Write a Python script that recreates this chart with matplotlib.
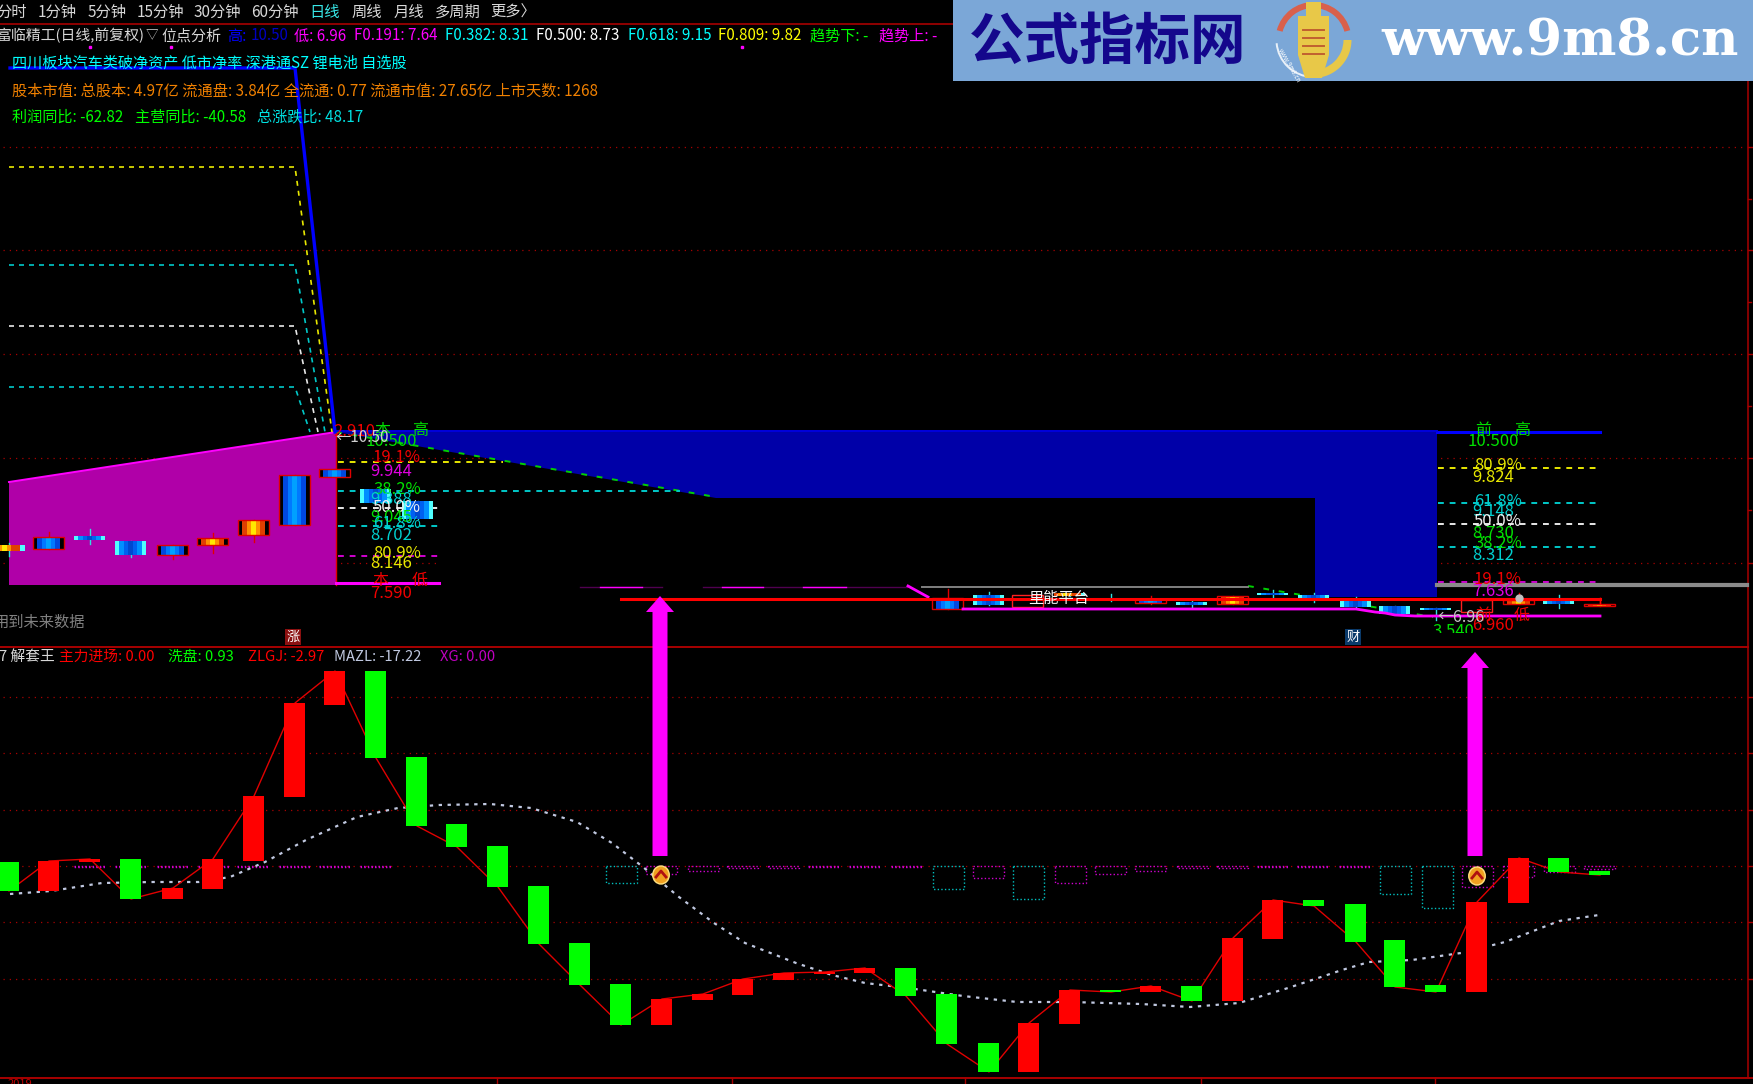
import numpy as np
import matplotlib
matplotlib.use("Agg")
import matplotlib.pyplot as plt
from matplotlib.patches import Polygon, Rectangle, Ellipse, Wedge

plt.rcParams['font.family'] = ['Noto Sans CJK SC', 'DejaVu Sans']

# lower panel (pixel rows, the picture has no value axis)
bar_x = [9, 49, 90, 131, 173, 213, 254, 295, 335, 376, 417, 457, 498, 539, 580, 621, 662, 703, 743, 784,
         825, 865, 906, 947, 989, 1029, 1070, 1111, 1151, 1192, 1233, 1273, 1314, 1356, 1395, 1436, 1477, 1519, 1559, 1600]
bar_top = [862, 861, 859, 859, 888, 859, 796, 703, 671, 671, 757, 824, 846, 886, 943, 984, 999, 994, 979, 973,
           972, 968, 968, 994, 1043, 1023, 990, 990, 986, 986, 938, 900, 900, 904, 940, 985, 902, 858, 858, 871]
bar_bot = [891, 891, 862, 899, 899, 889, 861, 797, 705, 758, 826, 847, 887, 944, 985, 1025, 1025, 1000, 995, 980,
           974, 973, 996, 1044, 1072, 1072, 1024, 992, 992, 1001, 1001, 939, 906, 942, 987, 992, 992, 903, 872, 875]
bar_up = [0, 1, 1, 0, 1, 1, 1, 1, 1, 0, 0, 0, 0, 0, 0, 0, 1, 1, 1, 1,
          1, 1, 0, 0, 0, 1, 1, 0, 1, 0, 1, 1, 0, 0, 0, 0, 1, 1, 0, 0]
zlgj = [891, 861, 859, 899, 888, 859, 796, 703, 671, 758, 826, 847, 887, 944, 985, 1025, 999, 994, 979, 973,
        972, 968, 996, 1044, 1072, 1023, 990, 992, 986, 1001, 938, 900, 906, 942, 987, 992, 902, 858, 872, 875]
mazl_x = [10, 51, 102, 153, 199, 230, 265, 306, 357, 398, 439, 490, 531, 577, 612, 643, 679, 714, 745, 796,
          832, 865, 908, 963, 1017, 1071, 1141, 1190, 1239, 1288, 1342, 1369, 1412, 1461, 1505, 1559, 1599]
mazl_y = [894, 891, 883, 882, 882, 877, 862, 840, 817, 808, 805, 804, 808, 822, 843, 867, 897, 923, 943, 963,
          975, 983, 988, 996, 1002, 1002, 1004, 1007, 1003, 988, 970, 962, 960, 953, 942, 921, 915]

# dotted boxes of the XG row
box_x = [74, 115, 157, 198, 237, 279, 319, 360, 606, 646, 688, 727, 768, 808, 849, 891, 933, 973, 1013, 1055, 1095,
         1135, 1177, 1217, 1257, 1297, 1339, 1380, 1422, 1462, 1503, 1544, 1584]
box_bot = [867, 867, 867, 867, 867, 867, 867, 867, 883, 874, 871, 868, 868, 867, 867, 867, 889, 878, 899, 883, 874,
           871, 868, 868, 867, 867, 867, 894, 908, 887, 877, 872, 869]
box_cyan = [0, 0, 0, 0, 0, 0, 0, 0, 1, 0, 0, 0, 0, 0, 0, 0, 1, 0, 1, 0, 0,
            0, 0, 0, 0, 0, 0, 1, 1, 0, 0, 0, 0]

arrow_x = [660, 1475]
arrow_tip = [596, 652]
arrow_base = [856, 856]
emblem_x = [661, 1477]
emblem_y = [875, 876]

# small candles of the upper panel
cand_x = [9, 49, 90, 131, 173, 213, 254, 295, 335, 376, 418,
          948, 989, 1070, 1111, 1151, 1192, 1233, 1273, 1314, 1356, 1395, 1436, 1519, 1559, 1600]
cand_top = [545, 537, 536, 541, 545, 538, 520, 475, 469, 489, 501,
            598, 595, 593, 599, 599, 602, 596, 593, 595, 600, 606, 608, 600, 600, 604]
cand_bot = [551, 549, 540, 555, 555, 545, 535, 525, 477, 503, 519,
            609, 605, 596, 601, 603, 605, 604, 595, 598, 607, 614, 610, 604, 604, 606]
cand_wtop = [543, 532, 529, 541, 545, 533, 520, 475, 469, 489, 501,
             589, 592, 593, 594, 596, 600, 596, 590, 593, 597, 606, 608, 593, 595, 598]
cand_wbot = [556, 549, 544, 557, 559, 553, 542, 525, 477, 503, 519,
             609, 605, 596, 601, 604, 607, 604, 597, 602, 607, 614, 620, 604, 608, 606]
cand_kind = ['fc', 'br', 'bc', 'bc', 'br', 'fr', 'fr', 'br', 'br', 'bc', 'bc',
             'br', 'bc', 'fc', 'bc', 'br', 'bc', 'fr', 'bc', 'bc', 'bc', 'bc', 'bc', 'fr', 'bc', 'fr']
hollow_x = [1028, 1477]
hollow_top = [595, 600]
hollow_bot = [607, 612]

# fibonacci levels
grid_top = [147, 250, 354, 458, 563]
grid_low = [697, 753, 810, 866, 922, 979]
fan_y = [68, 167, 265, 326, 387]
fan_end = [335, 332, 325, 318, 310]
fan_col = ['#0000ff', '#e8e800', '#00c8c8', '#e8e8e8', '#00c8c8']
left_y = [462, 491, 508, 526, 556]
left_end = [503, 680, 439, 439, 439]
left_col = ['#e8e800', '#00c8c8', '#e8e8e8', '#00c8c8', '#d000d0']
right_y = [468, 503, 524, 547, 582]
right_col = ['#e8e800', '#00c8c8', '#e8e8e8', '#00c8c8', '#d000d0']

left_lab = ['10.500', '19.1%', '9.944', '38.2%', '9.388', '50.0%', '9.045', '61.8%', '8.702', '80.9%', '8.146', '7.590']
left_lab_y = [441, 458, 472, 489, 499, 507, 518, 524, 535, 553, 564, 593]
left_lab_c = ['#00e000', '#f00000', '#e000e0', '#00e000', '#00d0d0', '#f0f0f0', '#00e000', '#00d0d0', '#00d0d0', '#e8e800', '#e8e800', '#f00000']
right_lab = ['10.500', '80.9%', '9.824', '61.8%', '9.148', '50.0%', '8.730', '38.2%', '8.312', '19.1%', '7.636', '6.960']
right_lab_y = [441, 465, 477, 501, 512, 522, 533, 544, 556, 579, 591, 626]
right_lab_c = ['#00e000', '#e8e800', '#e8e800', '#00d0d0', '#00d0d0', '#f0f0f0', '#00e000', '#00e000', '#00d0d0', '#f00000', '#e000e0', '#f00000']

# header strings
menu = ['分时', '1分钟', '5分钟', '15分钟', '30分钟', '60分钟', '日线', '周线', '月线', '多周期', '更多〉']
menu_x = [-4, 38, 88, 137, 194, 251, 309, 352, 394, 435, 490]
info = ['高:', '10.50', '低: 6.96', 'F0.191: 7.64', 'F0.382: 8.31', 'F0.500: 8.73', 'F0.618: 9.15', 'F0.809: 9.82', '趋势下: -', '趋势上: -']
info_x = [227, 251, 294, 354, 445, 536, 628, 718, 810, 879]
info_c = ['#0000ff', '#0000c0', '#ff00ff', '#ff00ff', '#00ffff', '#ffffff', '#00ffff', '#ffff00', '#00ff00', '#ff00ff']
sub = ['7 解套王', '主力进场: 0.00', '洗盘: 0.93', 'ZLGJ: -2.97', 'MAZL: -17.22', 'XG: 0.00']
sub_x = [-1, 59, 168, 248, 334, 440]
sub_c = ['#d8d8d8', '#ff0000', '#00ff00', '#ff0000', '#c0c8e0', '#c000c0']

fig = plt.figure(figsize=(17.53, 10.84), dpi=100, facecolor='black')
ax = fig.add_axes([0, 0, 1, 1], facecolor='black')
ax.set_axis_off()


def txt(x, y, s, c, size=10.0, ha='left', **kw):
    ax.text(x, y, s, color=c, fontsize=size, ha=ha, va='center', zorder=kw.pop('zorder', 20), **kw)


DOT = (0, (1, 4))
DASH = (0, (3, 3))
RED = '#a80000'

# grid
for y in grid_top:
    ax.plot([3, 1743], [y, y], color=RED, lw=0.9, ls=DOT, zorder=1)
for y in grid_low:
    ax.plot([3, 1743], [y, y], color=RED, lw=0.9, ls=DOT, zorder=1)
    ax.plot([1748, 1753], [y, y], color=RED, lw=1, zorder=1)
for y in grid_top:
    ax.plot([1748, 1753], [y, y], color=RED, lw=1, zorder=1)
for y in np.array(grid_top[:-1]) + 52:
    ax.plot([1748, 1751], [y, y], color=RED, lw=1, zorder=1)
ax.plot([0, 953], [24, 24], color=RED, lw=1.2, zorder=2)
ax.plot([0, 1748], [647, 647], color=RED, lw=1.4, zorder=2)
ax.plot([0, 1753], [1078, 1078], color=RED, lw=1.4, zorder=2)
ax.plot([1748, 1748], [81, 1078], color=RED, lw=1.1, zorder=2)
for x in [497, 732, 965, 1201, 1435]:
    ax.plot([x, x], [1078, 1084], color=RED, lw=1, zorder=2)
txt(8, 1084, '2019', '#c00000', 8)

# black mask of the middle part and the two big areas
ax.add_patch(Rectangle((439, 500), 1000, 140, fc='black', ec='none', zorder=1.5))
ax.add_patch(Polygon([(336, 432), (1437, 432), (1437, 597), (1315, 597), (1315, 498), (716, 498)],
                     closed=True, fc='#0000a8', ec='none', zorder=2))
ax.add_patch(Polygon([(9, 482), (336, 432), (336, 585), (9, 585)], closed=True, fc='#b000a8', ec='none', zorder=2))
ax.plot([9, 336], [482, 432], color='#ff00ff', lw=1.4, zorder=3)
ax.plot([336, 336], [432, 585], color='#e00000', lw=1, zorder=3)

# fan lines
for y, e, c in zip(fan_y, fan_end, fan_col):
    if c == '#0000ff':
        ax.plot([10, 295, e], [y, y, 432], color=c, lw=2.4, zorder=4)
    else:
        ax.plot([9, 295, e], [y, y, 432], color=c, lw=1.2, ls=DASH, zorder=3)

for y, e, c in zip(left_y, left_end, left_col):
    ax.plot([338, e], [y, y], color=c, lw=1.4, ls=DASH, zorder=4)
for y, c in zip(right_y, right_col):
    ax.plot([1438, 1600], [y, y], color=c, lw=1.4, ls=DASH, zorder=4)
# the green falling line shows only where no black lies over it
ax.plot([336, 716], [432, 497], color='#00d000', lw=1.4, ls=(0, (3, 5)), zorder=3)
ax.plot([1248, 1433], [586, 617], color='#00d000', lw=1.4, ls=(0, (3, 5)), zorder=3)
ax.plot([1437, 1600], [431.5, 431.5], color='#0000ff', lw=2.2, zorder=3)
ax.plot([336, 1437], [431, 431], color='#0000e0', lw=1.4, zorder=3)
ax.plot([336, 439], [583, 583], color='#ff00ff', lw=2.2, zorder=4)

# faint magenta rests
for a, b, c in [(580, 662, '#500050'), (600, 642, '#ff00ff'), (703, 907, '#500050'), (722, 763, '#ff00ff'), (803, 846, '#ff00ff')]:
    ax.plot([a, b], [587, 587], color=c, lw=1, zorder=4)
ax.plot([908, 928], [586, 597], color='#ff00ff', lw=2, zorder=4)
ax.plot([922, 1248], [586.5, 586.5], color='#808080', lw=1.4, zorder=4)
ax.plot([1437, 1747], [585, 585], color='#8a8a8a', lw=3, zorder=4)
ax.plot([963, 1356, 1375, 1385, 1395, 1415, 1600], [609, 609, 612, 613, 615, 616, 616], color='#ff00ff', lw=2, zorder=6)
ax.plot([621, 1600], [598.5, 598.5], color='#ff0000', lw=2.2, zorder=7)
ax.plot([1600, 1600], [598, 604], color='#ff0000', lw=1, zorder=7)

# small gradient candles
ramps = {
    'br': ['#000000', '#0048e0', '#0078ff', '#00a0ff', '#0078ff', '#0048e0', '#000000'],
    'bc': ['#50ffff', '#0090ff', '#0060f0', '#0048d0', '#0060f0', '#0090ff', '#50ffff'],
    'fr': ['#000000', '#e04000', '#ff9000', '#ffe800', '#ff9000', '#e04000', '#000000'],
    'fc': ['#e04000', '#ff9000', '#ffe800', '#ff9000', '#e04000', '#e04000', '#50ffff'],
}
for x, t, b, wt, wb, k in zip(cand_x, cand_top, cand_bot, cand_wtop, cand_wbot, cand_kind):
    rgb = np.array([[matplotlib.colors.to_rgb(c) for c in ramps[k]]])
    edge = 'c' in k[1]
    wick = '#30e0e0' if edge else '#e00000'
    ax.plot([x, x], [wt, wb], color=wick, lw=1, zorder=5)
    ax.imshow(rgb, extent=(x - 15.5, x + 15.5, b, t), aspect='auto', interpolation='nearest', zorder=5.5)
    if not edge:
        ax.add_patch(Rectangle((x - 15.5, t), 31, b - t, fc='none', ec='#e00000', lw=1, zorder=5.6))
for x, t, b in zip(hollow_x, hollow_top, hollow_bot):
    ax.add_patch(Rectangle((x - 15.5, t), 31, b - t, fc='black', ec='#ff2020', lw=1, zorder=5.6))
ax.plot([1519], [598], marker='o', ms=5, color='#c0c0c0', zorder=8)

# lower panel
ax.plot(bar_x, zlgj, color='#e00000', lw=1, zorder=5)
ax.plot(mazl_x, mazl_y, color='#c0c8e0', lw=1.6, ls=(0, (1.5, 2.5)), zorder=4.5)
for x, b, c in zip(box_x, box_bot, box_cyan):
    col = '#00c0c0' if c else '#d000d0'
    ax.add_patch(Rectangle((x, 866), 31, b - 866, fc='none', ec=col, lw=1, ls=(0, (1, 1.6)), zorder=4))
for x, t, b, u in zip(bar_x, bar_top, bar_bot, bar_up):
    ax.bar(x, b - t, bottom=t, width=21, color='#ff0000' if u else '#00ff00', zorder=6)

for x, t, b in zip(arrow_x, arrow_tip, arrow_base):
    ax.add_patch(Polygon([(x, t), (x + 14, t + 16), (x + 7.5, t + 16), (x + 7.5, b), (x - 7.5, b),
                          (x - 7.5, t + 16), (x - 14, t + 16)], closed=True, fc='#ff00ff', ec='none', zorder=8))
for x, y in zip(emblem_x, emblem_y):
    ax.add_patch(Ellipse((x, y), 16.5, 18, fc='#f0a020', ec='#ffe080', lw=1, zorder=9))
    ax.plot([x - 5, x, x + 5], [y + 2, y - 4, y + 2], color='#b01010', lw=2, zorder=10)

# logo strip
ax.add_patch(Rectangle((953, 0), 800, 81, fc='#7ba7d7', ec='none', zorder=11))
ax.text(1108, 43, '公式指标网', color='#14078c', fontsize=40, fontweight='bold', ha='center', va='center', zorder=12)
ax.add_patch(Wedge((1313.5, 40), 38, 195, 345, width=6, fc='#d9604c', ec='none', zorder=12))
ax.add_patch(Wedge((1313.5, 40), 38, 0, 92, width=8, fc='#e8c848', ec='none', zorder=12))
ax.add_patch(Wedge((1313.5, 40), 38, 92, 175, width=2, fc='#e8f0f8', ec='none', zorder=12))
ax.add_patch(Rectangle((1306, 2), 15, 14, fc='#e8c848', ec='none', zorder=12.5))
ax.add_patch(Polygon([(1298, 16), (1329, 16), (1329, 55), (1322, 78), (1305, 78), (1298, 55)],
                     closed=True, fc='#e8c848', ec='none', zorder=12.5))
for y in [30, 38, 46, 54]:
    ax.plot([1303, 1324], [y, y], color='#c06030', lw=1.4, zorder=13)
ax.text(1289, 66, 'www.9m8.cn', color='white', fontsize=4.5, rotation=-60, ha='center', va='center', zorder=13)
ax.text(1560, 42, 'www.9m8.cn', color='white', fontsize=37, family='DejaVu Serif', fontweight='bold',
        ha='center', va='center', zorder=12)

# texts
for s, x in zip(menu, menu_x):
    txt(x, 12, s, '#38e8e8' if s == '日线' else '#d8d8d8', 11)
txt(-3, 36, '富临精工(日线,前复权)', '#d8d8d8', 10.7)
txt(146, 36, '▽', '#d8d8d8', 9)
txt(161, 36, '位点分析', '#d8d8d8', 10.8)
for s, x, c in zip(info, info_x, info_c):
    txt(x, 36, s, c, 10.9)
for x in [90, 171, 742]:
    ax.plot([x], [47], marker='s', ms=1.6, color='#ff00ff', zorder=20)
txt(12, 63, '四川板块汽车类破净资产 低市净率 深港通SZ 锂电池 自选股', '#00ffff', 10.9)
txt(12, 91, '股本市值: 总股本: 4.97亿 流通盘: 3.84亿 全流通: 0.77 流通市值: 27.65亿 上市天数: 1268', '#f08000', 10.95)
txt(12, 117, '利润同比: -62.82', '#00ff00', 10.9)
txt(135, 117, '主营同比: -40.58', '#00ff00', 10.9)
txt(257, 117, '总涨跌比: 48.17', '#00e0e0', 10.9)

txt(-6, 622, '用到未来数据', '#808080', 11)
for s, x, c in zip(sub, sub_x, sub_c):
    txt(x, 657, s, c, 10.6)

for s, y, c in zip(left_lab, left_lab_y, left_lab_c):
    txt(391 if s[-1] != '%' else 397, y, s, c, 12, ha='center', zorder=15)
for s, y, c in zip(right_lab, right_lab_y, right_lab_c):
    txt(1493 if s[-1] != '%' else 1498, y, s, c, 12, ha='center', zorder=15)
for x, y, s, c in [(382, 430, '本', '#00e000'), (420, 430, '高', '#00e000'), (380, 580, '本', '#f00000'), (420, 580, '低', '#f00000'),
                   (1483, 430, '前', '#00e000'), (1522, 430, '高', '#00e000'), (1483, 615, '前', '#f00000'), (1522, 615, '低', '#f00000')]:
    txt(x, y, s, c, 11.5, ha='center', zorder=15)
txt(333, 432, '2.910', '#f00000', 12, zorder=15)
txt(335, 438, '←10.50', '#d0d0d0', 11, zorder=16)
txt(1437, 618, '←6.96', '#c8c8c8', 11.5, zorder=16)
txt(1432, 631, '3.540', '#00e000', 12, zorder=15)
ax.add_patch(Rectangle((1428, 632.5), 48, 13, fc='black', ec='none', zorder=15.5))
txt(1028, 599, '里能平台', '#f8f8f8', 11, zorder=16)

ax.add_patch(Rectangle((285, 629), 16, 16, fc='#8b1010', ec='none', zorder=15))
txt(293, 637, '涨', 'white', 9.5, ha='center', zorder=16)
ax.add_patch(Rectangle((1345, 629), 16, 16, fc='#0a3a6a', ec='none', zorder=15))
txt(1353, 637, '财', 'white', 9.5, ha='center', zorder=16)

ax.set_xlim(0, 1753)
ax.set_ylim(1084, 0)
fig.savefig('out.png', dpi=100, facecolor='black')
